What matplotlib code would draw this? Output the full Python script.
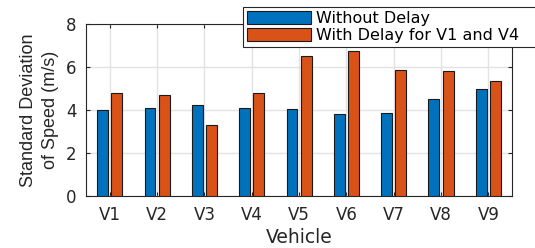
import numpy as np
import matplotlib
matplotlib.use("Agg")
import matplotlib.pyplot as plt

vehicles = ["V1", "V2", "V3", "V4", "V5", "V6", "V7", "V8", "V9"]
without_delay = [4.00, 4.08, 4.25, 4.09, 4.03, 3.81, 3.84, 4.53, 4.98]
with_delay = [4.79, 4.70, 3.29, 4.79, 6.50, 6.74, 5.88, 5.81, 5.35]

BLUE = "#0072BD"
ORANGE = "#D95319"
DARK = "#262626"

plt.rcParams["font.family"] = ["DejaVu Sans"]

fig = plt.figure(figsize=(5.35, 2.48), dpi=100)
ax = fig.add_axes([0.161, 0.210, 0.796, 0.693])

x = np.arange(1, len(vehicles) + 1)
w = 0.23
ax.bar(x - 0.15, without_delay, w, color=BLUE, edgecolor="#1a1a1a",
       linewidth=0.8, label="Without Delay", zorder=3)
ax.bar(x + 0.15, with_delay, w, color=ORANGE, edgecolor="#1a1a1a",
       linewidth=0.8, label="With Delay for V1 and V4", zorder=3)

ax.set_xlim(0.5, 9.5)
ax.set_ylim(0, 8)
ax.set_xticks(x)
ax.set_xticklabels(vehicles, fontsize=12)
ax.set_yticks([0, 2, 4, 6, 8])
ax.tick_params(axis="y", labelsize=12, pad=7)
ax.tick_params(axis="x", pad=7)
ax.tick_params(direction="in", length=3, right=True, top=True,
               color=DARK, labelcolor=DARK)
ax.grid(True, color="#e3e3e3", linewidth=1.0, zorder=0)
ax.set_axisbelow(True)
for s in ax.spines.values():
    s.set_color(DARK)
    s.set_linewidth(0.8)

ax.set_xlabel("Vehicle", fontsize=13.5, color=DARK, labelpad=3)
ax.set_ylabel("Standard Deviation\nof Speed (m/s)", fontsize=13,
              family=["Liberation Sans Narrow", "Liberation Sans"],
              color=DARK, labelpad=5, linespacing=1.4)

# legend sticks out past the right edge like the original
leg = fig.legend(loc="upper left", bbox_to_anchor=(0.454, 0.81, 0.57, 0.162),
                 mode="expand", fontsize=11.5, frameon=True, fancybox=False,
                 handlelength=4.0, handleheight=0.9, handletextpad=0.35,
                 labelspacing=0.1, borderpad=0.25, borderaxespad=0)
leg.get_frame().set_edgecolor(DARK)
leg.get_frame().set_linewidth(0.8)
leg.get_frame().set_alpha(1)

fig.savefig("out.png", dpi=100)
